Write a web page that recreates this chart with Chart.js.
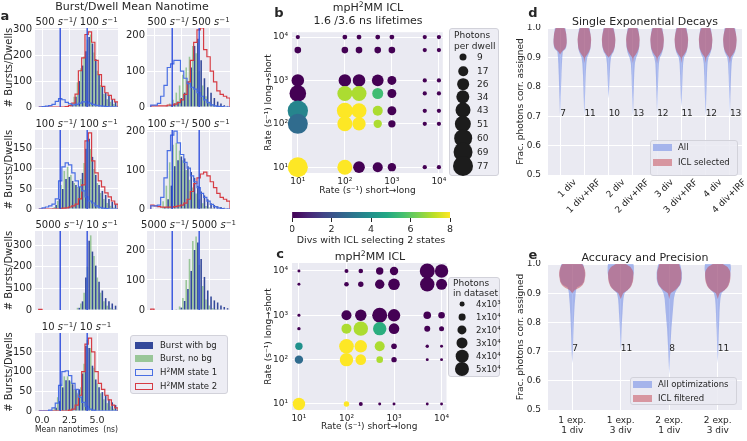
<!DOCTYPE html>
<html><head><meta charset="utf-8">
<script src="https://cdn.jsdelivr.net/npm/chart.js@4.4.1/dist/chart.umd.min.js"></script>
<style>
html,body{margin:0;padding:0;background:#fff}
body{width:747px;height:441px;position:relative;overflow:hidden;font-family:"DejaVu Sans",sans-serif;color:#262626}
canvas{position:absolute}
.t{position:absolute;white-space:nowrap;line-height:1;transform:translate(-50%,-50%)}
.l{position:absolute;white-space:nowrap;line-height:1;transform:translate(0,-50%)}
sup{font-size:70%;vertical-align:0.45em;line-height:0}
.box{position:absolute;background:rgba(234,234,242,0.85);border:1px solid #d2d2da;border-radius:3px;box-sizing:border-box}
.sw{position:absolute;box-sizing:border-box}
.dot{position:absolute;border-radius:50%;background:#1c1c1c;transform:translate(-50%,-50%)}
</style></head><body>
<script>
// ================= DATA =================
// Panel a: histogram bins (ns) and axis ticks
const binEdges = [-0.3,0,0.3,0.6,0.9,1.2,1.5,1.8,2.1,2.4,2.7,3.0,3.3,3.6,3.9,4.2,4.5,4.8,5.1,5.4,5.7,6.0,6.3,6.6,6.9];
const nanoTicks = [0, 2.5, 5.0];
const lifetimeLines = [1.65, 4.1];
const rateTitles = [["500","100"],["500","500"],["100","100"],["100","500"],["5000","10"],["5000","5000"],["10","10"]];
const countTicks = [[0,100,200,300],[0,100,200],[0,50,100,150],[0,100,200],[0,100,200,300],[0,100,200],[0,50,100,150]];
const countMax = [305,220,197,203,365,263,198];

const a1Bg   = [0,0,0,0,0,0,0,0,0,2,8,40,100,160,215,270,245,185,125,80,55,42,30,20];
const a1NoBg = [0,0,0,0,0,0,0,0,2,15,40,95,150,195,260,280,210,140,85,50,30,20,12,6];
const a1S1   = [0,2,3,5,10,22,32,28,18,12,8,10,15,20,20,15,10,6,4,3,2,1,1,0];
const a1S2   = [0,0,0,0,0,0,0,0,2,5,15,50,140,190,280,290,250,180,125,80,55,45,30,20];

const a2Bg   = [0,0,0,0,0,2,5,10,15,25,40,70,110,170,190,130,80,55,40,25,15,10,5,3];
const a2NoBg = [0,0,0,0,5,10,20,40,60,90,110,140,170,150,100,60,30,15,8,4,2,1,0,0];
const a2S1   = [5,5,10,30,60,110,120,130,130,100,80,65,55,50,40,30,20,12,6,3,2,1,0,0];
const a2S2   = [3,3,3,3,3,5,5,8,12,20,35,70,130,180,215,220,160,140,100,70,45,35,30,25];

const a3Bg   = [0,0,0,0,2,10,25,50,75,80,70,60,55,90,150,175,130,85,60,45,35,25,18,12];
const a3NoBg = [0,0,0,0,5,20,60,95,105,85,65,55,75,115,170,150,100,65,40,25,15,8,4,2];
const a3S1   = [0,3,5,8,12,25,70,105,115,110,90,70,55,45,30,20,15,8,4,2,1,0,0,0];
const a3S2   = [0,0,0,0,0,0,0,2,3,5,8,12,25,60,170,190,120,90,70,55,40,30,20,12];

const a4Bg   = [0,0,0,0,5,25,60,110,125,135,130,110,95,80,60,45,35,25,15,10,7,5,3,2];
const a4NoBg = [0,0,0,20,60,120,165,170,150,125,100,75,55,40,25,15,8,4,2,1,0,0,0,0];
const a4S1   = [8,8,10,30,80,150,190,200,170,140,120,105,85,70,55,40,30,20,12,6,3,1,0,0];
const a4S2   = [10,8,6,5,5,5,5,6,8,10,15,25,45,65,80,90,95,85,70,55,40,30,25,20];

const a5Bg   = [0,0,0,0,0,0,0,0,0,0,0,0,10,40,150,320,270,205,130,90,55,40,30,20];
const a5NoBg = [0,0,0,0,0,0,0,0,0,0,0,10,30,80,200,345,250,150,80,40,20,10,5,2];
const a5S1   = null;
const a5S2   = [3];

const a6Bg   = [0,0,0,0,0,0,0,0,0,8,30,70,130,200,225,170,110,65,45,32,25,15,10,6];
const a6NoBg = [0,0,0,0,0,0,0,3,12,40,100,170,230,245,150,80,35,15,6,3,1,0,0,0];
const a6S1   = null;
const a6S2   = [3];

const a7Bg   = [0,0,0,0,2,8,25,60,78,78,68,55,55,95,165,160,115,80,60,48,40,30,22,15];
const a7NoBg = [0,0,0,0,10,35,70,88,88,75,55,45,60,120,180,160,110,70,45,30,20,12,6,3];
const a7S1   = [0,0,0,2,8,20,65,100,102,90,70,55,35,22,12,5,2,0,0,0,0,0,0,0];
const a7S2   = [0,0,0,0,0,0,0,0,0,2,5,15,40,100,170,185,150,100,70,55,40,28,15,8];

// Panels b, c: rate grid (s^-1), rows listed top (10^4) to bottom (10)
const rates = [10,100,200,500,1000,5000,10000];
const rateRows = [10000,5000,1000,500,200,100,10];
const rateTicks = [10,100,1000,10000];
const bPhotons = [
 [3,4,4,4,4,3,3],
 [8,8,8,8,8,3,3],
 [30,30,30,26,15,3,3],
 [53,43,43,23,15,3,3],
 [80,49,43,19,15,3,3],
 [77,43,34,13,10,3,3],
 [77,43,26,19,13,3,3]];
const bDivs = [
 [0,0,0,0,0,0,0],
 [0,0,0,0,0,0,0],
 [0,0,0,0,0,0,0],
 [0,7,7,5.5,0,0,0],
 [3.6,8,8,7,0,0,0],
 [2.8,8,8,7,0,0,0],
 [8,8,0,0,0,0,0]];
const cPhotons = [
 [200,2100,3460,12300,16500,57100,45150],
 [200,3460,5570,21150,33300,52500,29700],
 [260,24200,32100,57100,38400,13100,9360],
 [940,24200,52500,45150,27500,7370,4470],
 [12300,54000,38400,24200,6150,940,200],
 [16500,45150,27500,9360,5570,200,200],
 [38400,5570,2100,200,200,50,50]];
const cDivs = [
 [0,0,0,0,0,0,0],
 [0,0,0,0,0,0,0],
 [0,0,0,0,0,0,0],
 [0,7,7,5,0,0,0],
 [4,8,8,7,0,0,0],
 [2.8,8,8,7,0,0,0],
 [8,8,0,0,0,0,0]];
const divTicks = [0,2,4,6,8];
const bLegendVals = [9,17,26,34,43,51,60,69,77];
const cLegendVals = [4000,10000,20000,30000,40000,50000];
const cLegendLabels = ['4x10³','1x10⁴','2x10⁴','3x10⁴','4x10⁴','5x10⁴'];

// Panels d, e: violin profiles (half-width in category units at each level)
const fracTicks = [0.5,0.6,0.7,0.8,0.9,1.0];
const dCats = ["1 div","1 div+IRF","2 div","2 div+IRF","3 div","3 div+IRF","4 div","4 div+IRF"];
const dCounts = [7,11,10,13,12,11,12,13];
const dLevels = [0.70,0.73,0.76,0.80,0.84,0.88,0.90,0.91,0.92,0.93,0.94,0.95,0.96,0.97,0.98,0.99,1.00];
const dAll = [
 [0,0.015,0.025,0.04,0.055,0.075,0.09,0.10,0.12,0.23,0.26,0.27,0.27,0.26,0.25,0.23,0.21],
 [0,0.015,0.025,0.04,0.055,0.085,0.12,0.17,0.22,0.25,0.26,0.27,0.27,0.26,0.25,0.23,0.21],
 [0,0,0,0.025,0.045,0.07,0.10,0.14,0.21,0.24,0.26,0.27,0.27,0.26,0.25,0.23,0.21],
 [0,0.015,0.025,0.04,0.055,0.085,0.14,0.19,0.23,0.25,0.27,0.27,0.27,0.26,0.25,0.23,0.21],
 [0,0.01,0.02,0.035,0.05,0.075,0.12,0.18,0.22,0.25,0.26,0.27,0.27,0.26,0.25,0.23,0.21],
 [0,0,0.018,0.035,0.05,0.075,0.11,0.17,0.22,0.24,0.26,0.27,0.27,0.26,0.25,0.23,0.21],
 [0,0.015,0.025,0.04,0.055,0.08,0.12,0.18,0.22,0.25,0.26,0.27,0.27,0.26,0.25,0.23,0.21],
 [0,0.01,0.02,0.035,0.05,0.075,0.11,0.17,0.22,0.24,0.26,0.27,0.27,0.26,0.25,0.23,0.21]];
const dIcl = [
 [0,0,0,0,0,0,0,0,0.08,0.20,0.25,0.27,0.27,0.26,0.25,0.22,0.17],
 [0,0,0,0,0,0,0.03,0.12,0.19,0.24,0.26,0.27,0.28,0.27,0.25,0.22,0.17],
 [0,0,0,0,0,0,0,0.10,0.18,0.23,0.26,0.27,0.28,0.27,0.25,0.22,0.17],
 [0,0,0,0,0,0,0.03,0.12,0.19,0.24,0.26,0.27,0.28,0.27,0.25,0.22,0.17],
 [0,0,0,0,0,0,0.03,0.12,0.19,0.24,0.26,0.27,0.28,0.27,0.25,0.22,0.17],
 [0,0,0,0,0,0,0.03,0.12,0.19,0.24,0.26,0.27,0.28,0.27,0.25,0.22,0.17],
 [0,0,0,0,0,0,0.03,0.12,0.19,0.24,0.26,0.27,0.28,0.27,0.25,0.22,0.17],
 [0,0,0,0,0,0,0.03,0.12,0.19,0.24,0.26,0.27,0.28,0.27,0.25,0.22,0.17]];
const eCats = [["1 exp.","1 div"],["1 exp.","3 div"],["2 exp.","1 div"],["2 exp.","3 div"]];
const eCounts = [7,11,8,11];
const eLevels = [0.62,0.64,0.66,0.68,0.70,0.72,0.75,0.78,0.80,0.83,0.86,0.88,0.90,0.91,0.92,0.93,0.94,0.95,0.96,0.97,0.98,0.99,1.00,1.01];
const eAll = [
 [0,0,0,0.006,0.012,0.016,0.021,0.027,0.032,0.04,0.05,0.06,0.07,0.08,0.10,0.20,0.24,0.25,0.26,0.26,0.25,0.24,0.22,0.12],
 [0,0,0,0,0,0.006,0.012,0.018,0.024,0.035,0.045,0.055,0.08,0.14,0.19,0.22,0.24,0.25,0.26,0.27,0.27,0.27,0.26,0.20],
 [0,0.005,0.01,0.015,0.02,0.025,0.035,0.045,0.055,0.07,0.085,0.095,0.12,0.15,0.19,0.23,0.25,0.26,0.26,0.26,0.25,0.24,0.22,0.12],
 [0,0,0,0.005,0.01,0.013,0.018,0.024,0.03,0.036,0.045,0.055,0.08,0.14,0.19,0.22,0.24,0.25,0.26,0.26,0.27,0.27,0.26,0.20]];
const eIcl = [
 [0,0,0,0,0,0,0,0,0,0,0,0,0,0.05,0.16,0.22,0.25,0.26,0.27,0.27,0.26,0.24,0.20,0],
 [0,0,0,0,0,0,0,0,0,0,0,0,0.05,0.14,0.20,0.23,0.25,0.26,0.26,0.26,0.24,0.20,0.10,0],
 [0,0,0,0,0,0,0,0,0,0,0,0,0.03,0.12,0.18,0.22,0.24,0.25,0.25,0.25,0.24,0.22,0.20,0],
 [0,0,0,0,0,0,0,0,0,0,0,0,0.04,0.14,0.20,0.23,0.25,0.26,0.26,0.26,0.24,0.20,0.10,0]];

// ================= STYLE / HELPERS =================
const TXT = '#262626';
Chart.defaults.font.family = '"DejaVu Sans", sans-serif';
Chart.defaults.color = TXT;
const VIR = ['#440154','#482475','#414487','#355f8d','#2a788e','#21918c','#22a884','#44bf70','#7ad151','#bddf26','#fde725'];
const SUP = {1:'¹',2:'²',3:'³',4:'⁴'};
function hx(h){return [parseInt(h.slice(1,3),16),parseInt(h.slice(3,5),16),parseInt(h.slice(5,7),16)];}
function viridis(t){t=Math.max(0,Math.min(1,t));const p=t*10,i=Math.min(9,Math.floor(p)),f=p-i;const a=hx(VIR[i]),b=hx(VIR[i+1]);return 'rgb('+a.map((v,k)=>Math.round(v+(b[k]-v)*f)).join(',')+')';}
function bR(v){return Math.sqrt(Math.max(1,12.25+(v-9)*1.29));}
function cR(v){return Math.sqrt(2+v*0.00095);}
const BLUE_V='rgba(96,126,228,0.5)', RED_V='rgba(196,66,78,0.5)';
const BAR_BLUE='#34499a', BAR_GREEN='rgba(122,184,118,0.72)';

Chart.register({id:'bgfill',beforeDraw(ch){const a=ch.chartArea;if(!a)return;const x=ch.ctx;x.save();x.fillStyle='#EAEAF2';x.fillRect(a.left,a.top,a.right-a.left,a.bottom-a.top);x.restore();}});

function mk(rect,m,yW,xH,cfg){
  const c=document.createElement('canvas');
  const W=rect[2]-rect[0]+m[0]+m[2], H=rect[3]-rect[1]+m[1]+m[3];
  c.width=W;c.height=H;c.style.left=(rect[0]-m[0])+'px';c.style.top=(rect[1]-m[1])+'px';
  c.style.width=W+'px';c.style.height=H+'px';
  document.body.appendChild(c);
  const o=cfg.options;
  o.responsive=false;o.animation=false;o.maintainAspectRatio=false;o.devicePixelRatio=1;o.events=[];
  o.layout={padding:{left:m[0]-yW,top:m[1],right:m[2],bottom:m[3]-xH}};
  o.plugins=Object.assign({legend:{display:false},tooltip:{enabled:false}},o.plugins||{});
  o.scales.x.afterFit=s=>{s.height=xH;s.paddingLeft=0;s.paddingRight=0;};
  o.scales.y.afterFit=s=>{s.width=yW;s.paddingTop=0;s.paddingBottom=0;};
  return new Chart(c,cfg);
}
function txt(html,x,y,size,bold,left){const d=document.createElement('div');d.className=left?'l':'t';d.innerHTML=html;d.style.left=x+'px';d.style.top=y+'px';d.style.fontSize=size+'px';if(bold)d.style.fontWeight='bold';document.body.appendChild(d);return d;}
function box(x,y,w,h){const d=document.createElement('div');d.className='box';Object.assign(d.style,{left:x+'px',top:y+'px',width:w+'px',height:h+'px'});document.body.appendChild(d);return d;}
function sw(x,y,w,h,fill,stroke){const d=document.createElement('div');d.className='sw';Object.assign(d.style,{left:x+'px',top:(y-h/2)+'px',width:w+'px',height:h+'px',background:fill||'transparent'});if(stroke)d.style.border='1.2px solid '+stroke;document.body.appendChild(d);}
function dot(x,y,r){const d=document.createElement('div');d.className='dot';Object.assign(d.style,{left:x+'px',top:y+'px',width:(2*r)+'px',height:(2*r)+'px'});document.body.appendChild(d);}
const gridW={color:'#ffffff',drawTicks:false,lineWidth:1};

// ================= PANEL a =================
const aSeries=[[a1Bg,a1NoBg,a1S1,a1S2],[a2Bg,a2NoBg,a2S1,a2S2],[a3Bg,a3NoBg,a3S1,a3S2],[a4Bg,a4NoBg,a4S1,a4S2],[a5Bg,a5NoBg,a5S1,a5S2],[a6Bg,a6NoBg,a6S1,a6S2],[a7Bg,a7NoBg,a7S1,a7S2]];
const aRects=[[35,28,118,107],[147,28,230,107],[35,130,118,209],[147,130,230,209],[35,231,118,310],[147,231,230,310],[35,333,118,411]];
const centers=binEdges.slice(0,-1).map((e,k)=>(e+binEdges[k+1])/2);
function stepPts(vals){const p=[{x:binEdges[0],y:0}];vals.forEach((v,k)=>p.push({x:binEdges[k],y:v}));p.push({x:binEdges[vals.length],y:0});return p;}
aSeries.forEach((S,i)=>{
  const r=aRects[i], leftCol=(i%2===0), xl=(i===6);
  const ds=[
    {type:'bar',data:centers.map((x,k)=>({x,y:S[0][k]})),backgroundColor:BAR_BLUE,categoryPercentage:0.95,barPercentage:1,order:3},
    {type:'bar',data:centers.map((x,k)=>({x,y:S[1][k]})),backgroundColor:BAR_GREEN,categoryPercentage:0.95,barPercentage:1,order:3}];
  if(S[2])ds.push({type:'line',data:stepPts(S[2]),borderColor:'#4a6fe3',borderWidth:1.2,pointRadius:0,stepped:true,fill:false,order:1});
  if(S[3])ds.push({type:'line',data:stepPts(S[3]),borderColor:'#d63c44',borderWidth:1.2,pointRadius:0,stepped:true,fill:false,order:1});
  lifetimeLines.forEach(L=>ds.push({type:'line',data:[{x:L,y:0},{x:L,y:1e5}],borderColor:'#2546dc',borderWidth:1.3,pointRadius:0,fill:false,order:0}));
  mk(r, leftCol?[35,4,6,xl?30:4]:[25,4,8,4], leftCol?35:25, xl?30:0, {
    type:'bar', data:{datasets:ds},
    options:{scales:{
      x:{type:'linear',min:-0.64,max:6.9,offset:false,afterBuildTicks:s=>{s.ticks=nanoTicks.map(v=>({value:v}));},
         ticks:{display:xl,font:{size:9.5},padding:4,callback:v=>v.toFixed(1)},grid:Object.assign({offset:false},gridW),border:{display:false},
         title:{display:xl,text:'Mean nanotimes  (ns)',font:{size:9.5},padding:{top:0,bottom:6}}},
      y:{min:0,max:countMax[i],afterBuildTicks:s=>{s.ticks=countTicks[i].map(v=>({value:v}));},
         ticks:{font:{size:10},padding:leftCol?3:2},grid:gridW,border:{display:false},
         title:{display:leftCol,text:'# Bursts/Dwells',font:{size:10},padding:{top:3,bottom:0}}}}}
  });
  txt(rateTitles[i][0]+' <i>s</i><sup>−1</sup>/ '+rateTitles[i][1]+' <i>s</i><sup>−1</sup>',(r[0]+r[2])/2,r[1]-6,10);
});

// ================= PANELS b, c =================
function bubbleSet(ph,dv,rf){const pts=[],cols=[];rateRows.forEach((yv,ri)=>rates.forEach((xv,ci)=>{pts.push({x:xv,y:yv,r:rf(ph[ri][ci])});cols.push(viridis(dv[ri][ci]/8));}));return {pts,cols};}
function logAxis(min,max,title,padT,padB,isY){
  return {type:'logarithmic',min,max,afterBuildTicks:s=>{s.ticks=rateTicks.map(v=>({value:v}));},
    ticks:{autoSkip:false,font:{size:9},padding:isY?4:3,callback:v=>'10'+SUP[Math.round(Math.log10(v))]},
    grid:gridW,border:{display:false},title:{display:true,text:title,font:{size:9},padding:{top:padT,bottom:padB}}};
}
const bS=bubbleSet(bPhotons,bDivs,bR);
mk([292,28,447,173],[32,6,6,28],32,26,{type:'bubble',data:{datasets:[{data:bS.pts,backgroundColor:bS.cols,borderWidth:0,borderColor:'rgba(0,0,0,0)',clip:false}]},
  options:{scales:{x:logAxis(7.52,12100,'Rate (s⁻¹) short→long',0,3,false),y:logAxis(7.35,12940,'Rate (s⁻¹) long→short',3,0,true)}}});
const cS=bubbleSet(cPhotons,cDivs,cR);
mk([292,263,448,410],[32,8,6,28],32,26,{type:'bubble',data:{datasets:[{data:cS.pts,backgroundColor:cS.cols,borderWidth:0,borderColor:'rgba(0,0,0,0)',clip:false}]},
  options:{scales:{x:logAxis(7.15,12700,'Rate (s⁻¹) short→long',0,4,false),y:logAxis(7.32,15100,'Rate (s⁻¹) long→short',3,0,true)}}});

// colorbar
mk([292,212,450,218],[2,2,8,34],0,32,{type:'bar',data:{labels:[''],datasets:[{data:[[0,8]],barPercentage:1,categoryPercentage:1,borderWidth:0,
  backgroundColor:ctx=>{const ch=ctx.chart,a=ch.chartArea;if(!a)return '#888';const g=ch.ctx.createLinearGradient(a.left,0,a.right,0);VIR.forEach((c,k)=>g.addColorStop(k/10,c));return g;}}]},
  options:{indexAxis:'y',scales:{
    x:{type:'linear',min:0,max:8,afterBuildTicks:s=>{s.ticks=divTicks.map(v=>({value:v}));},ticks:{font:{size:9.5},padding:2},
       grid:{drawOnChartArea:false,drawTicks:true,tickLength:4,color:TXT,tickColor:TXT},border:{display:false},
       title:{display:true,text:'Divs with ICL selecting 2 states',font:{size:9.5},padding:{top:0,bottom:4}}},
    y:{display:false}}}});

// ================= PANELS d, e =================
function violin(center,levels,widths){
  let f=widths.findIndex(w=>w>0);let l=widths.length-1-[...widths].reverse().findIndex(w=>w>0);
  const s=Math.max(0,f-1),e=Math.min(widths.length-1,l+1),pts=[];
  for(let k=s;k<=e;k++)pts.push({x:center-widths[k],y:levels[k]});
  for(let k=e;k>=s;k--)pts.push({x:center+widths[k],y:levels[k]});
  return pts;
}
function violinSets(all,icl,levels){
  const ds=[];
  all.forEach((w,i)=>ds.push({data:violin(i,levels,w),fill:'shape',backgroundColor:BLUE_V,borderColor:'rgba(0,0,0,0)',borderWidth:0,pointRadius:0,tension:0.2,order:1}));
  icl.forEach((w,i)=>ds.push({data:violin(i,levels,w),fill:'shape',backgroundColor:RED_V,borderColor:'rgba(0,0,0,0)',borderWidth:0,pointRadius:0,tension:0.2,order:0}));
  return ds;
}
function countPlugin(counts){return {id:'counts',afterDatasetsDraw(ch){const {ctx,scales:{x,y}}=ch;ctx.save();ctx.font='9px "DejaVu Sans"';ctx.fillStyle=TXT;ctx.textBaseline='middle';ctx.textAlign='left';counts.forEach((n,i)=>ctx.fillText(String(n),x.getPixelForValue(i),y.getPixelForValue(0.71)));ctx.restore();}};}
function fracY(){return {min:0.5,max:1.0,afterBuildTicks:s=>{s.ticks=fracTicks.map(v=>({value:v}));},ticks:{font:{size:9},padding:7,callback:v=>v.toFixed(1)},
  grid:gridW,border:{display:false},title:{display:true,text:'Frac. photons corr. assigned',font:{size:9},padding:{top:3,bottom:0}}};}
mk([548,28,742,175],[36,4,4,50],36,48,{type:'line',data:{datasets:violinSets(dAll,dIcl,dLevels)},plugins:[countPlugin(dCounts)],
  options:{scales:{
    x:{type:'linear',min:-0.5,max:7.5,offset:false,afterBuildTicks:s=>{s.ticks=dCats.map((c,i)=>({value:i}));},
       ticks:{autoSkip:false,minRotation:45,maxRotation:45,labelOffset:15,padding:2,font:{size:9},callback:v=>dCats[v]},grid:gridW,border:{display:false}},
    y:fracY()}}});
mk([548,264,742,410],[36,4,4,30],36,28,{type:'line',data:{datasets:violinSets(eAll,eIcl,eLevels)},plugins:[countPlugin(eCounts)],
  options:{scales:{
    x:{type:'linear',min:-0.5,max:3.5,offset:false,afterBuildTicks:s=>{s.ticks=eCats.map((c,i)=>({value:i}));},
       ticks:{autoSkip:false,maxRotation:0,padding:6,font:{size:9,lineHeight:1.1},callback:v=>eCats[v]},grid:gridW,border:{display:false}},
    y:fracY()}}});

// ================= TEXT, LEGENDS =================
txt('a',5,15,13,true);
txt('Burst/Dwell Mean Nanotime',132,6,11);
txt('b',279,12,13,true);
txt('mpH<sup>2</sup>MM ICL',368,7,11);
txt('1.6 /3.6 ns lifetimes',368,20,11);
txt('c',280,253,13,true);
txt('mpH<sup>2</sup>MM ICL',370,256,11);
txt('d',533,12,13,true);
txt('Single Exponential Decays',645,21,11);
txt('e',533,254,13,true);
txt('Accuracy and Precision',645,257,11);

// legend a
box(130,335,98,59);
[[345,BAR_BLUE,null,'Burst with bg'],[358,BAR_GREEN,null,'Burst, no bg'],[372,null,'#4a6fe3','H<sup>2</sup>MM state 1'],[386,null,'#d63c44','H<sup>2</sup>MM state 2']]
 .forEach(e=>{sw(135,e[0],18,7,e[1],e[2]);txt(e[3],160,e[0],8.5,false,true);});
// legend b
box(449,28,50,148);
txt('Photons',454,35,9,false,true);txt('per dwell',454,46,9,false,true);
const bLegY=[57,71,84,97,110,124,138,152,166];
bLegendVals.forEach((v,k)=>{dot(463,bLegY[k],bR(v));txt(String(v),477,bLegY[k],9,false,true);});
// legend c
box(448,277,52,100);
txt('Photons',453,283,9,false,true);txt('in dataset',453,293,9,false,true);
const cLegY=[304,317,330,343,356,369];
cLegendVals.forEach((v,k)=>{dot(462,cLegY[k],cR(v));txt(cLegendLabels[k],476,cLegY[k],8.5,false,true);});
// legend d
box(650,140,88,36);
sw(653,147,19,7,BLUE_V);txt('All',678,147,8.5,false,true);
sw(653,162,19,7,RED_V);txt('ICL selected',678,162,8.5,false,true);
// legend e
box(630,377,107,28);
sw(633,384,19,7,BLUE_V);txt('All optimizations',658,384,8.5,false,true);
sw(633,398,19,7,RED_V);txt('ICL filtered',658,398,8.5,false,true);
</script>
</body></html>
